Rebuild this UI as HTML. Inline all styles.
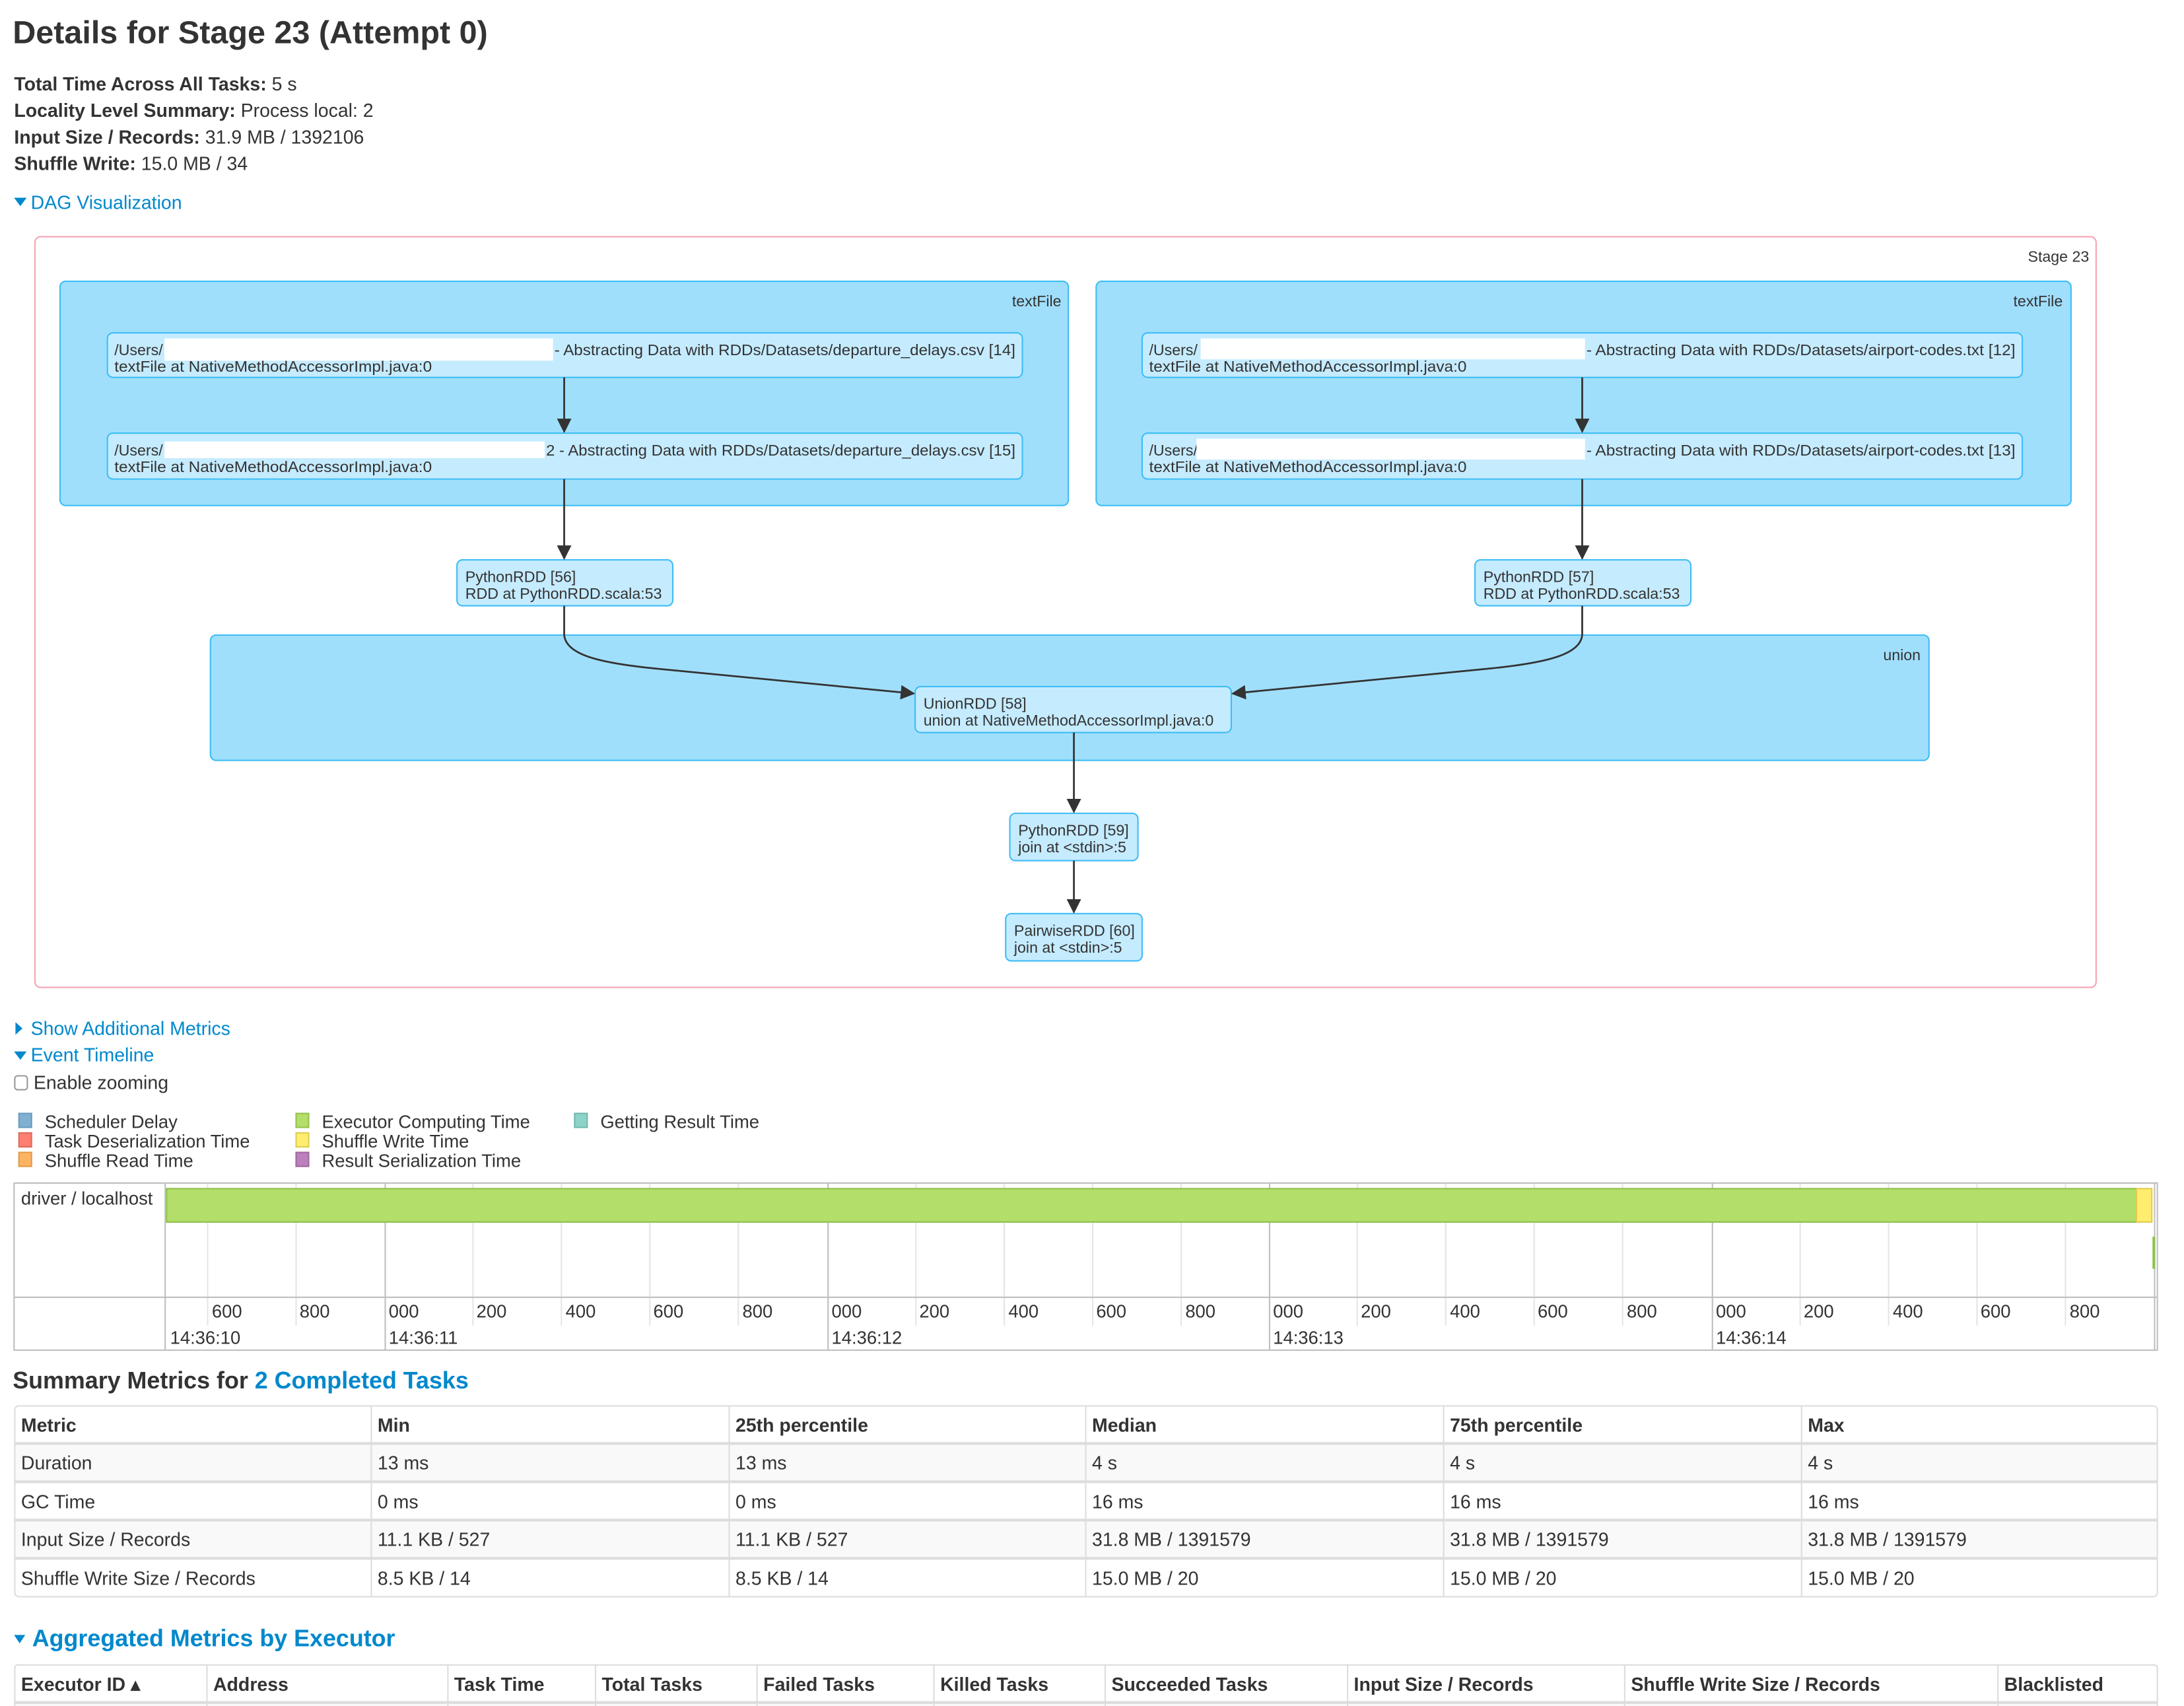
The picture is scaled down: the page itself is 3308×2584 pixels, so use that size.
<!DOCTYPE html>
<html><head><meta charset="utf-8"><style>
html,body{margin:0;padding:0;background:#fff;width:3308px;height:2584px;overflow:hidden}
svg{display:block}
text{font-family:"Liberation Sans",Arial,sans-serif;fill:#333}
.b{font-weight:bold}
.lk{fill:#0088cc}
.n{font-size:11px}
.t{font-size:13.5px}
</style></head><body>
<svg width="3308" height="2584" viewBox="0 0 1568 1225" xmlns="http://www.w3.org/2000/svg">
<defs><marker id="ar" viewBox="0 0 10 10" refX="9" refY="5" markerWidth="8" markerHeight="8" orient="auto"><path d="M0,0 L10,5 L0,10 z" fill="#333"/></marker></defs>
<text x="9" y="31" class="b" style="font-size:23px">Details for Stage 23 (Attempt 0)</text>
<text x="10" y="65" class="t"><tspan class="b">Total Time Across All Tasks:</tspan> 5 s</text>
<text x="10" y="84" class="t"><tspan class="b">Locality Level Summary:</tspan> Process local: 2</text>
<text x="10" y="103" class="t"><tspan class="b">Input Size / Records:</tspan> 31.9 MB / 1392106</text>
<text x="10" y="122" class="t"><tspan class="b">Shuffle Write:</tspan> 15.0 MB / 34</text>
<path d="M10,142 L19,142 L14.5,148 z" fill="#0088cc"/>
<text x="22" y="150" class="t lk">DAG Visualization</text>

<rect x="25" y="170" width="1480" height="539" rx="4" fill="#fff" stroke="#f5a3b3" stroke-width="1"/>
<text x="1500" y="188" class="n" text-anchor="end">Stage 23</text>

<rect x="43" y="202" width="724" height="161" rx="4" fill="#a0dffc" stroke="#3ebdf5"/>
<text x="762" y="220" class="n" text-anchor="end">textFile</text>
<rect x="787" y="202" width="700" height="161" rx="4" fill="#a0dffc" stroke="#3ebdf5"/>
<text x="1481" y="220" class="n" text-anchor="end">textFile</text>
<rect x="151" y="456" width="1234" height="90" rx="4" fill="#a0dffc" stroke="#3ebdf5"/>
<text x="1379" y="474" class="n" text-anchor="end">union</text>

<g fill="#c5ebff" stroke="#3ebdf5">
<rect x="77" y="239" width="657" height="32" rx="4"/>
<rect x="77" y="311" width="657" height="33" rx="4"/>
<rect x="820" y="239" width="632" height="32" rx="4"/>
<rect x="820" y="311" width="632" height="33" rx="4"/>
<rect x="328" y="402" width="155" height="33" rx="4"/>
<rect x="1059" y="402" width="155" height="33" rx="4"/>
<rect x="657" y="493" width="227" height="33" rx="4"/>
<rect x="725" y="584" width="92" height="34" rx="4"/>
<rect x="722" y="656" width="98" height="34" rx="4"/>
</g>
<g class="n">
<text x="82" y="255" class="n">/Users/</text><text x="398" y="255" class="n" textLength="331" lengthAdjust="spacingAndGlyphs">- Abstracting Data with RDDs/Datasets/departure_delays.csv [14]</text>
<text x="82" y="267" class="n" textLength="228" lengthAdjust="spacingAndGlyphs">textFile at NativeMethodAccessorImpl.java:0</text>
<text x="82" y="327" class="n">/Users/</text><text x="392" y="327" class="n" textLength="337" lengthAdjust="spacingAndGlyphs">2 - Abstracting Data with RDDs/Datasets/departure_delays.csv [15]</text>
<text x="82" y="339" class="n" textLength="228" lengthAdjust="spacingAndGlyphs">textFile at NativeMethodAccessorImpl.java:0</text>
<text x="825" y="255" class="n">/Users/</text><text x="1139" y="255" class="n" textLength="308" lengthAdjust="spacingAndGlyphs">- Abstracting Data with RDDs/Datasets/airport-codes.txt [12]</text>
<text x="825" y="267" class="n" textLength="228" lengthAdjust="spacingAndGlyphs">textFile at NativeMethodAccessorImpl.java:0</text>
<text x="825" y="327" class="n">/Users/</text><text x="1139" y="327" class="n" textLength="308" lengthAdjust="spacingAndGlyphs">- Abstracting Data with RDDs/Datasets/airport-codes.txt [13]</text>
<text x="825" y="339" class="n" textLength="228" lengthAdjust="spacingAndGlyphs">textFile at NativeMethodAccessorImpl.java:0</text>
<text x="334" y="418" class="n">PythonRDD [56]</text><text x="334" y="430" class="n">RDD at PythonRDD.scala:53</text>
<text x="1065" y="418" class="n">PythonRDD [57]</text><text x="1065" y="430" class="n">RDD at PythonRDD.scala:53</text>
<text x="663" y="509" class="n">UnionRDD [58]</text><text x="663" y="521" class="n">union at NativeMethodAccessorImpl.java:0</text>
<text x="731" y="600" class="n">PythonRDD [59]</text><text x="731" y="612" class="n">join at &lt;stdin&gt;:5</text>
<text x="728" y="672" class="n">PairwiseRDD [60]</text><text x="728" y="684" class="n">join at &lt;stdin&gt;:5</text>
</g>
<g fill="#fff">
<rect x="118" y="243" width="279" height="16"/>
<rect x="118" y="317" width="273" height="12"/>
<rect x="862" y="243" width="276" height="15"/>
<rect x="859" y="315" width="279" height="15"/>
</g>
<g stroke="#333" stroke-width="1.3" fill="none" marker-end="url(#ar)">
<path d="M405,271 L405,310"/>
<path d="M405,344 L405,401"/>
<path d="M1136,271 L1136,310"/>
<path d="M1136,344 L1136,401"/>
<path d="M405,435 L405,455 C405,470 430,476 470,480 L656,498"/>
<path d="M1136,435 L1136,455 C1136,470 1110,476 1070,480 L885,498"/>
<path d="M771,526 L771,583"/>
<path d="M771,618 L771,655"/>
</g>

<path d="M11,734 L16,738.5 L11,743 z" fill="#0088cc"/>
<text x="22" y="743" class="t lk">Show Additional Metrics</text>
<path d="M10,755 L19,755 L14.5,761 z" fill="#0088cc"/>
<text x="22" y="762" class="t lk">Event Timeline</text>
<rect x="10.5" y="772.5" width="9" height="10" rx="2" fill="#fff" stroke="#999"/>
<text x="24" y="782" class="t">Enable zooming</text>

<g stroke-width="1">
<rect x="13.5" y="799.5" width="9" height="10" fill="#80b1d3" stroke="#6a9bbd"/>
<rect x="13.5" y="813.5" width="9" height="10" fill="#fb8072" stroke="#e06a5c"/>
<rect x="13.5" y="827.5" width="9" height="10" fill="#fdb462" stroke="#e09a4a"/>
<rect x="212.5" y="799.5" width="9" height="10" fill="#b3de69" stroke="#98c050"/>
<rect x="212.5" y="813.5" width="9" height="10" fill="#ffed6f" stroke="#e0cc50"/>
<rect x="212.5" y="827.5" width="9" height="10" fill="#bc80bd" stroke="#a068a0"/>
<rect x="412.5" y="799.5" width="9" height="10" fill="#8dd3c7" stroke="#70b8ab"/>
</g>
<g>
<text x="32" y="810" style="font-size:13px">Scheduler Delay</text>
<text x="32" y="824" style="font-size:13px">Task Deserialization Time</text>
<text x="32" y="838" style="font-size:13px">Shuffle Read Time</text>
<text x="231" y="810" style="font-size:13px">Executor Computing Time</text>
<text x="231" y="824" style="font-size:13px">Shuffle Write Time</text>
<text x="231" y="838" style="font-size:13px">Result Serialization Time</text>
<text x="431" y="810" style="font-size:13px">Getting Result Time</text>
</g>

<!-- timeline -->
<g stroke="#e5e5e5" stroke-width="1">
<path d="M149,849V952 M212.5,849V952 M339.5,849V952 M403,849V952 M466.5,849V952 M530,849V952 M657.5,849V952 M721,849V952 M784.5,849V952 M848,849V952 M974.5,849V952 M1038,849V952 M1101.5,849V952 M1165,849V952 M1292.5,849V952 M1356,849V952 M1419.5,849V952 M1483,849V952"/>
</g>
<g stroke="#bfbfbf" stroke-width="1" fill="none">
<rect x="10" y="849.5" width="1539" height="120"/>
<path d="M118.5,849V969 M276.5,849V969 M594.5,849V969 M911.5,849V969 M1229.5,849V969 M1547,849V969 M10,931.5H1549"/>
</g>
<rect x="119.5" y="853.5" width="1414.5" height="24" fill="#b3de69" stroke="#8fc04a"/>
<rect x="1534" y="853.5" width="11" height="24" fill="#ffed6f" stroke="#e0cc50"/>
<rect x="1545.5" y="888" width="2" height="23" fill="#8fc04a"/>
<text x="15" y="865" style="font-size:13px">driver / localhost</text>
<g>
<text x="152" y="946" style="font-size:13px">600</text><text x="215" y="946" style="font-size:13px">800</text>
<text x="279" y="946" style="font-size:13px">000</text><text x="342" y="946" style="font-size:13px">200</text><text x="406" y="946" style="font-size:13px">400</text><text x="469" y="946" style="font-size:13px">600</text><text x="533" y="946" style="font-size:13px">800</text>
<text x="597" y="946" style="font-size:13px">000</text><text x="660" y="946" style="font-size:13px">200</text><text x="724" y="946" style="font-size:13px">400</text><text x="787" y="946" style="font-size:13px">600</text><text x="851" y="946" style="font-size:13px">800</text>
<text x="914" y="946" style="font-size:13px">000</text><text x="977" y="946" style="font-size:13px">200</text><text x="1041" y="946" style="font-size:13px">400</text><text x="1104" y="946" style="font-size:13px">600</text><text x="1168" y="946" style="font-size:13px">800</text>
<text x="1232" y="946" style="font-size:13px">000</text><text x="1295" y="946" style="font-size:13px">200</text><text x="1359" y="946" style="font-size:13px">400</text><text x="1422" y="946" style="font-size:13px">600</text><text x="1486" y="946" style="font-size:13px">800</text>
<text x="122" y="965" style="font-size:13px">14:36:10</text><text x="279" y="965" style="font-size:13px">14:36:11</text><text x="597" y="965" style="font-size:13px">14:36:12</text><text x="914" y="965" style="font-size:13px">14:36:13</text><text x="1232" y="965" style="font-size:13px">14:36:14</text>
</g>

<!-- summary -->
<text x="9" y="997" class="b" style="font-size:17px">Summary Metrics for <tspan class="lk">2 Completed Tasks</tspan></text>
<rect x="10" y="1036.5" width="1539" height="27.5" fill="#f9f9f9"/>
<rect x="10" y="1091.5" width="1539" height="27.5" fill="#f9f9f9"/>
<g stroke="#ddd" fill="none">
<rect x="10.5" y="1009.5" width="1538.5" height="137" rx="3"/>
<path d="M10,1036.5H1549 M10,1064H1549 M10,1091.5H1549 M10,1119H1549" stroke-width="2"/>
<path d="M266.5,1009V1146 M523.5,1009V1146 M779.5,1009V1146 M1036.5,1009V1146 M1293.5,1009V1146"/>
</g>
<g>
<text x="15" y="1028" class="b t">Metric</text><text x="271" y="1028" class="b t">Min</text><text x="528" y="1028" class="b t">25th percentile</text><text x="784" y="1028" class="b t">Median</text><text x="1041" y="1028" class="b t">75th percentile</text><text x="1298" y="1028" class="b t">Max</text>
<text x="15" y="1055" class="t">Duration</text><text x="271" y="1055" class="t">13 ms</text><text x="528" y="1055" class="t">13 ms</text><text x="784" y="1055" class="t">4 s</text><text x="1041" y="1055" class="t">4 s</text><text x="1298" y="1055" class="t">4 s</text>
<text x="15" y="1083" class="t">GC Time</text><text x="271" y="1083" class="t">0 ms</text><text x="528" y="1083" class="t">0 ms</text><text x="784" y="1083" class="t">16 ms</text><text x="1041" y="1083" class="t">16 ms</text><text x="1298" y="1083" class="t">16 ms</text>
<text x="15" y="1110" class="t">Input Size / Records</text><text x="271" y="1110" class="t">11.1 KB / 527</text><text x="528" y="1110" class="t">11.1 KB / 527</text><text x="784" y="1110" class="t">31.8 MB / 1391579</text><text x="1041" y="1110" class="t">31.8 MB / 1391579</text><text x="1298" y="1110" class="t">31.8 MB / 1391579</text>
<text x="15" y="1138" class="t">Shuffle Write Size / Records</text><text x="271" y="1138" class="t">8.5 KB / 14</text><text x="528" y="1138" class="t">8.5 KB / 14</text><text x="784" y="1138" class="t">15.0 MB / 20</text><text x="1041" y="1138" class="t">15.0 MB / 20</text><text x="1298" y="1138" class="t">15.0 MB / 20</text>
</g>

<!-- aggregated -->
<path d="M10,1174 L18,1174 L14,1180 z" fill="#0088cc"/>
<text x="23" y="1182" class="b lk" style="font-size:17px">Aggregated Metrics by Executor</text>
<rect x="10" y="1223" width="1539" height="10" fill="#f9f9f9"/>
<g stroke="#ddd" fill="none">
<path d="M10.5,1230V1198 Q10.5,1195.5 13,1195.5 H1546 Q1549,1195.5 1549,1198 V1230" />
<path d="M10,1222.5H1549" stroke-width="2"/>
<path d="M148.5,1195V1230 M321.5,1195V1230 M427.5,1195V1230 M543.5,1195V1230 M670.5,1195V1230 M793.5,1195V1230 M967.5,1195V1230 M1166.5,1195V1230 M1434.5,1195V1230"/>
</g>
<g>
<text x="15" y="1214" class="b t">Executor ID ▴</text><text x="153" y="1214" class="b t">Address</text><text x="326" y="1214" class="b t">Task Time</text><text x="432" y="1214" class="b t">Total Tasks</text><text x="548" y="1214" class="b t">Failed Tasks</text><text x="675" y="1214" class="b t">Killed Tasks</text><text x="798" y="1214" class="b t">Succeeded Tasks</text><text x="972" y="1214" class="b t">Input Size / Records</text><text x="1171" y="1214" class="b t">Shuffle Write Size / Records</text><text x="1439" y="1214" class="b t">Blacklisted</text>
</g>
</svg>
</body></html>
